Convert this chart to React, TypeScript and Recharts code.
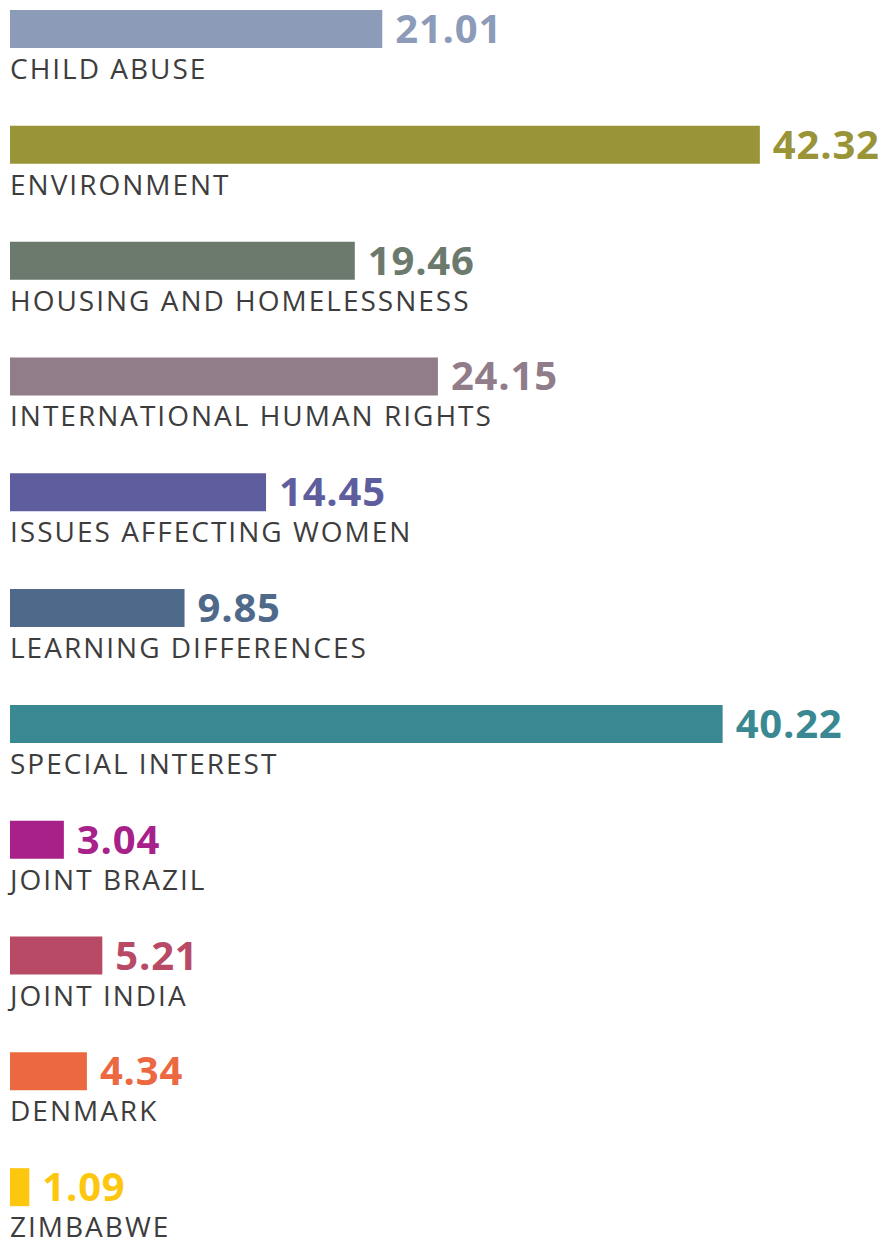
import React from 'react';
import { BarChart, Bar, XAxis, YAxis, Cell, LabelList } from 'recharts';

const categories = [
  'CHILD ABUSE',
  'ENVIRONMENT',
  'HOUSING AND HOMELESSNESS',
  'INTERNATIONAL HUMAN RIGHTS',
  'ISSUES AFFECTING WOMEN',
  'LEARNING DIFFERENCES',
  'SPECIAL INTEREST',
  'JOINT BRAZIL',
  'JOINT INDIA',
  'DENMARK',
  'ZIMBABWE',
];
const values = [21.01, 42.32, 19.46, 24.15, 14.45, 9.85, 40.22, 3.04, 5.21, 4.34, 1.09];
const colors = [
  '#8C9BB8', '#9A9438', '#6C7A6E', '#917C8A', '#5E5E9E', '#4F698A',
  '#3A8891', '#A8208A', '#B84A66', '#EC6841', '#FDC60F',
];

const data = categories.map((name, i) => ({ name, value: values[i], color: colors[i] }));

const FONT = '"Open Sans", sans-serif';

const ValueLabel = (props: any) => {
  const { x, y, width, height, index } = props;
  return (
    <text
      x={x + width + 13}
      y={y + height / 2 + 14}
      fill={colors[index]}
      fontFamily={FONT}
      fontWeight={700}
      fontSize={40}
      letterSpacing={0.8}
    >
      {values[index].toFixed(2)}
    </text>
  );
};

const NameLabel = (props: any) => {
  const { x, y, height, index } = props;
  return (
    <text
      x={x}
      y={y + height + 31}
      fill="#3d3d3d"
      fontFamily={FONT}
      fontSize={28}
      letterSpacing={2}
    >
      {categories[index]}
    </text>
  );
};

export default function App() {
  return (
    <div style={{ position: 'absolute', left: 0, top: 0, width: 880, height: 1238, overflow: 'hidden', background: '#fff' }}>
      <BarChart
        width={880}
        height={1238}
        data={data}
        layout="vertical"
        margin={{ top: -29, bottom: -7, left: 10, right: 19.5 }}
        barSize={38}
      >
        <XAxis type="number" domain={[0, 48]} hide />
        <YAxis type="category" dataKey="name" hide />
        <Bar dataKey="value" isAnimationActive={false}>
          {data.map((d, i) => (
            <Cell key={i} fill={d.color} />
          ))}
          <LabelList dataKey="value" content={ValueLabel} />
          <LabelList dataKey="name" content={NameLabel} />
        </Bar>
      </BarChart>
    </div>
  );
}
